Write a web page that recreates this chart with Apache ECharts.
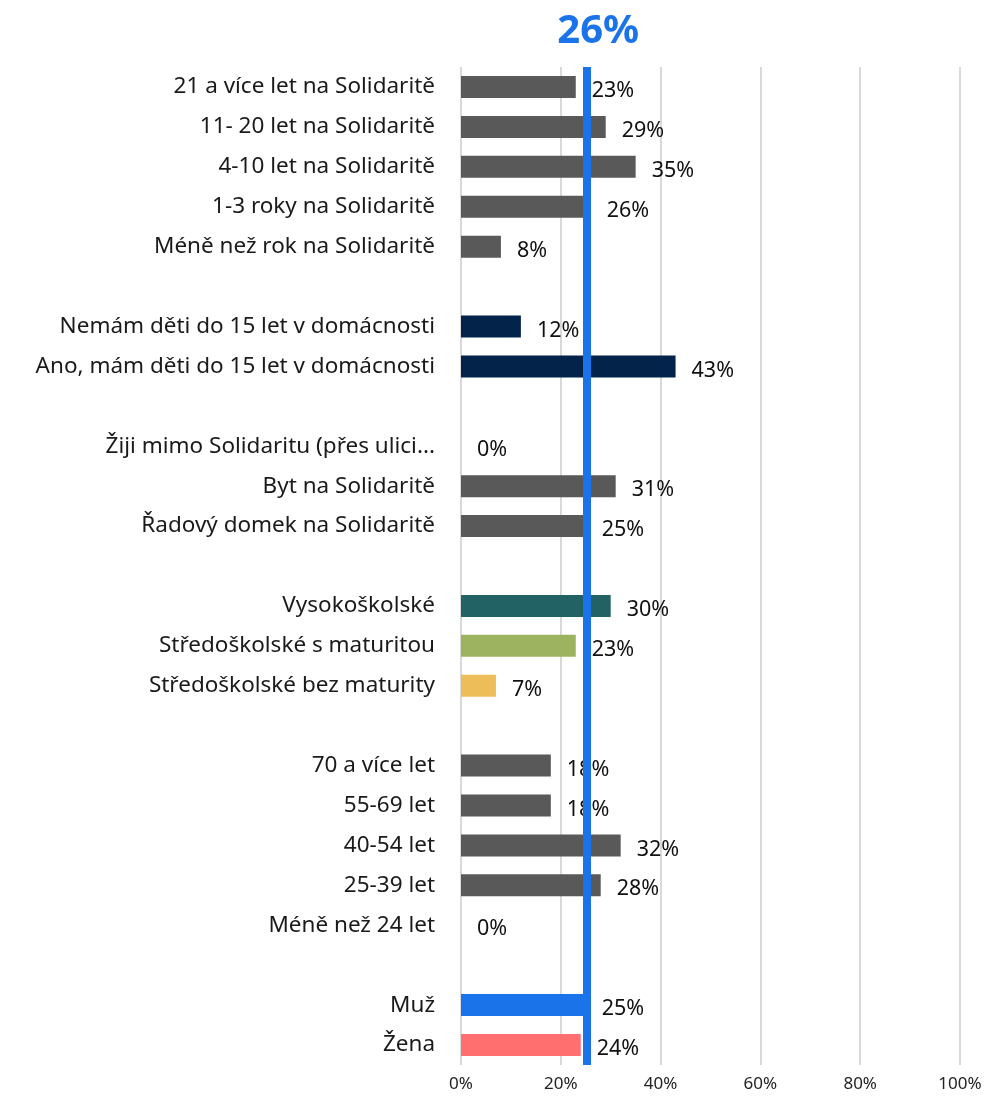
<!DOCTYPE html>
<html>
<head>
<meta charset="utf-8">
<script src="https://cdn.jsdelivr.net/npm/echarts@6/dist/echarts.min.js"></script>
<style>
  html, body { margin: 0; padding: 0; background: #fff; }
  #chart { width: 987px; height: 1102px; }
</style>
</head>
<body>
<div id="chart"></div>
<script>
// kategorie shora dolů, prázdné řádky = mezery mezi skupinami
const categories = [
    '21 a více let na Solidaritě',
    '11- 20 let na Solidaritě',
    '4-10 let na Solidaritě',
    '1-3 roky na Solidaritě',
    'Méně než rok na Solidaritě',
    ' ',
    'Nemám děti do 15 let v domácnosti',
    'Ano, mám děti do 15 let v domácnosti',
    '  ',
    'Žiji mimo Solidaritu (přes ulici...',
    'Byt na Solidaritě',
    'Řadový domek na Solidaritě',
    '   ',
    'Vysokoškolské',
    'Středoškolské s maturitou',
    'Středoškolské bez maturity',
    '    ',
    '70 a více let',
    '55-69 let',
    '40-54 let',
    '25-39 let',
    'Méně než 24 let',
    '     ',
    'Muž',
    'Žena'
];
const values = [23, 29, 35, 26, 8, null, 12, 43, null, 0, 31, 25, null, 30, 23, 7, null, 18, 18, 32, 28, 0, null, 25, 24];
const tickValues = [0, 20, 40, 60, 80, 100];
const averageValue = 25.3;
const averageLabel = '26%';

// barvy řádků
const GRAY = '#595959';
const rowColors = [
    GRAY, GRAY, GRAY, GRAY, GRAY, GRAY,
    '#03234a', '#03234a', GRAY,
    GRAY, GRAY, GRAY, GRAY,
    '#236264', '#9db35f', '#ecbd58', GRAY,
    GRAY, GRAY, GRAY, GRAY, GRAY, GRAY,
    '#1a73e8', '#ff6f6f'
];

const FONT = '"Noto Sans"';
const chart = echarts.init(document.getElementById('chart'), null, {renderer: 'canvas'});

chart.setOption({
    backgroundColor: '#fff',
    animation: false,
    grid: {left: 461, right: 27, top: 67, bottom: 37, containLabel: false},
    xAxis: {
        type: 'value',
        min: 0,
        max: 100,
        interval: 20,
        axisLine: {show: false},
        axisTick: {show: false},
        splitLine: {show: true, lineStyle: {color: '#d9d9d9', width: 2}},
        axisLabel: {
            margin: 11,
            fontFamily: FONT,
            fontSize: 17,
            color: '#222',
            formatter: v => tickValues.includes(v) ? v + '%' : ''
        }
    },
    yAxis: {
        type: 'category',
        inverse: true,
        data: categories,
        axisLine: {show: false},
        axisTick: {show: false},
        axisLabel: {margin: 26, fontFamily: FONT, fontSize: 22.5, color: '#1a1a1a'}
    },
    series: [{
        type: 'bar',
        barWidth: 22,
        data: values.map((v, i) => ({value: v, itemStyle: {color: rowColors[i]}})),
        label: {
            show: true,
            position: 'right',
            distance: 16,
            offset: [0, 4],
            fontFamily: FONT,
            fontSize: 21.5,
            color: '#111',
            formatter: p => p.value == null ? '' : p.value + '%'
        },
        markLine: {
            silent: true,
            symbol: ['none', 'none'],
            lineStyle: {color: '#1a73e8', width: 8, type: 'solid'},
            label: {
                show: true,
                position: 'start',
                distance: 15,
                offset: [11, 0],
                formatter: averageLabel,
                color: '#1a73e8',
                fontFamily: FONT,
                fontSize: 40,
                fontWeight: 'bold'
            },
            data: [{xAxis: averageValue}]
        },
        z: 2
    }]
});
</script>
</body>
</html>
